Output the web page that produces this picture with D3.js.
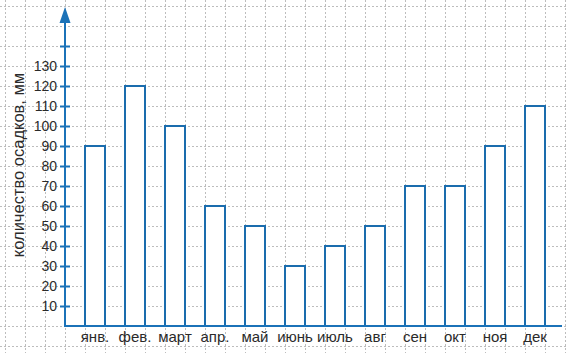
<!DOCTYPE html>
<html lang="ru">
<head>
    <meta charset="UTF-8">
    <title>Количество осадков</title>
    <style>
        body {
            margin: 0;
            padding: 0;
            background: #fff;
            overflow: hidden;
        }
        svg text {
            font-family: "Liberation Sans", Arial, sans-serif;
            fill: #2a2a2a;
        }
        .grid line {
            stroke: #bdbdbd;
            stroke-width: 1;
            stroke-dasharray: 2,2;
        }
        .bar {
            fill: #fff;
            stroke: #1a6cad;
            stroke-width: 2;
        }
    </style>
</head>
<body>
<svg id="chart" width="568" height="353"></svg>

<script src="https://cdnjs.cloudflare.com/ajax/libs/d3/7.8.5/d3.min.js"></script>
<script>
    // data
    const months = ["янв.", "фев.", "март", "апр.", "май", "июнь", "июль", "авг", "сен", "окт", "ноя", "дек"];
    const rainfall = [90, 120, 100, 60, 50, 30, 40, 50, 70, 70, 90, 110];
    const yTicks = [10, 20, 30, 40, 50, 60, 70, 80, 90, 100, 110, 120, 130, 140];
    const yTitle = "количество осадков, мм";

    const W = 568, H = 353;
    const axisColor = "#1b72b8";

    const svg = d3.select("#chart");

    const x = d3.scaleBand()
        .domain(months)
        .range([65, 565])
        .paddingInner(0.5)
        .paddingOuter(0.5);

    const y = d3.scaleLinear()
        .domain([0, 140])
        .range([326, 46]);

    // dotted paper grid, 20px step
    const grid = svg.append("g").attr("class", "grid");
    grid.selectAll(".v")
        .data(d3.range(5, W, 20))
      .enter().append("line")
        .attr("x1", d => d + 0.5).attr("x2", d => d + 0.5)
        .attr("y1", 0).attr("y2", H);
    grid.selectAll(".h")
        .data(d3.range(6, H, 20))
      .enter().append("line")
        .attr("x1", 0).attr("x2", W)
        .attr("y1", d => d + 0.5).attr("y2", d => d + 0.5);

    // bars
    svg.selectAll(".bar")
        .data(months)
      .enter().append("rect")
        .attr("class", "bar")
        .attr("x", d => x(d))
        .attr("width", x.bandwidth())
        .attr("y", (d, i) => y(rainfall[i]))
        .attr("height", (d, i) => y(0) - y(rainfall[i]));

    // y axis
    const yAxis = svg.append("g")
        .attr("transform", "translate(65,0)")
        .call(d3.axisLeft(y)
            .tickValues(yTicks)
            .tickSize(5)
            .tickPadding(3)
            .tickFormat(d => d === 140 ? "" : d));
    yAxis.select(".domain").remove();
    yAxis.selectAll(".tick line")
        .attr("x1", -5).attr("x2", 5)
        .attr("stroke", axisColor)
        .attr("stroke-width", 2);
    yAxis.selectAll(".tick text")
        .style("font-size", "14px")
        .attr("fill", "#2a2a2a");

    yAxis.append("line")
        .attr("x1", 0).attr("x2", 0)
        .attr("y1", y(0)).attr("y2", 18)
        .attr("stroke", axisColor)
        .attr("stroke-width", 2);
    yAxis.append("path")
        .attr("d", "M0,7 L-5.5,23 L5.5,23 Z")
        .attr("fill", axisColor);

    // x axis (baseline + month labels)
    svg.append("line")
        .attr("x1", 64).attr("x2", 562)
        .attr("y1", y(0)).attr("y2", y(0))
        .attr("stroke", axisColor)
        .attr("stroke-width", 2);

    svg.selectAll(".month")
        .data(months)
      .enter().append("text")
        .attr("class", "month")
        .attr("x", d => x(d) + x.bandwidth() / 2)
        .attr("y", 342)
        .attr("text-anchor", "middle")
        .style("font-size", "15px")
        .text(d => d);

    // y title
    svg.append("text")
        .attr("transform", "translate(24,165) rotate(-90)")
        .attr("text-anchor", "middle")
        .style("font-size", "16.5px")
        .text(yTitle);
</script>
</body>
</html>
